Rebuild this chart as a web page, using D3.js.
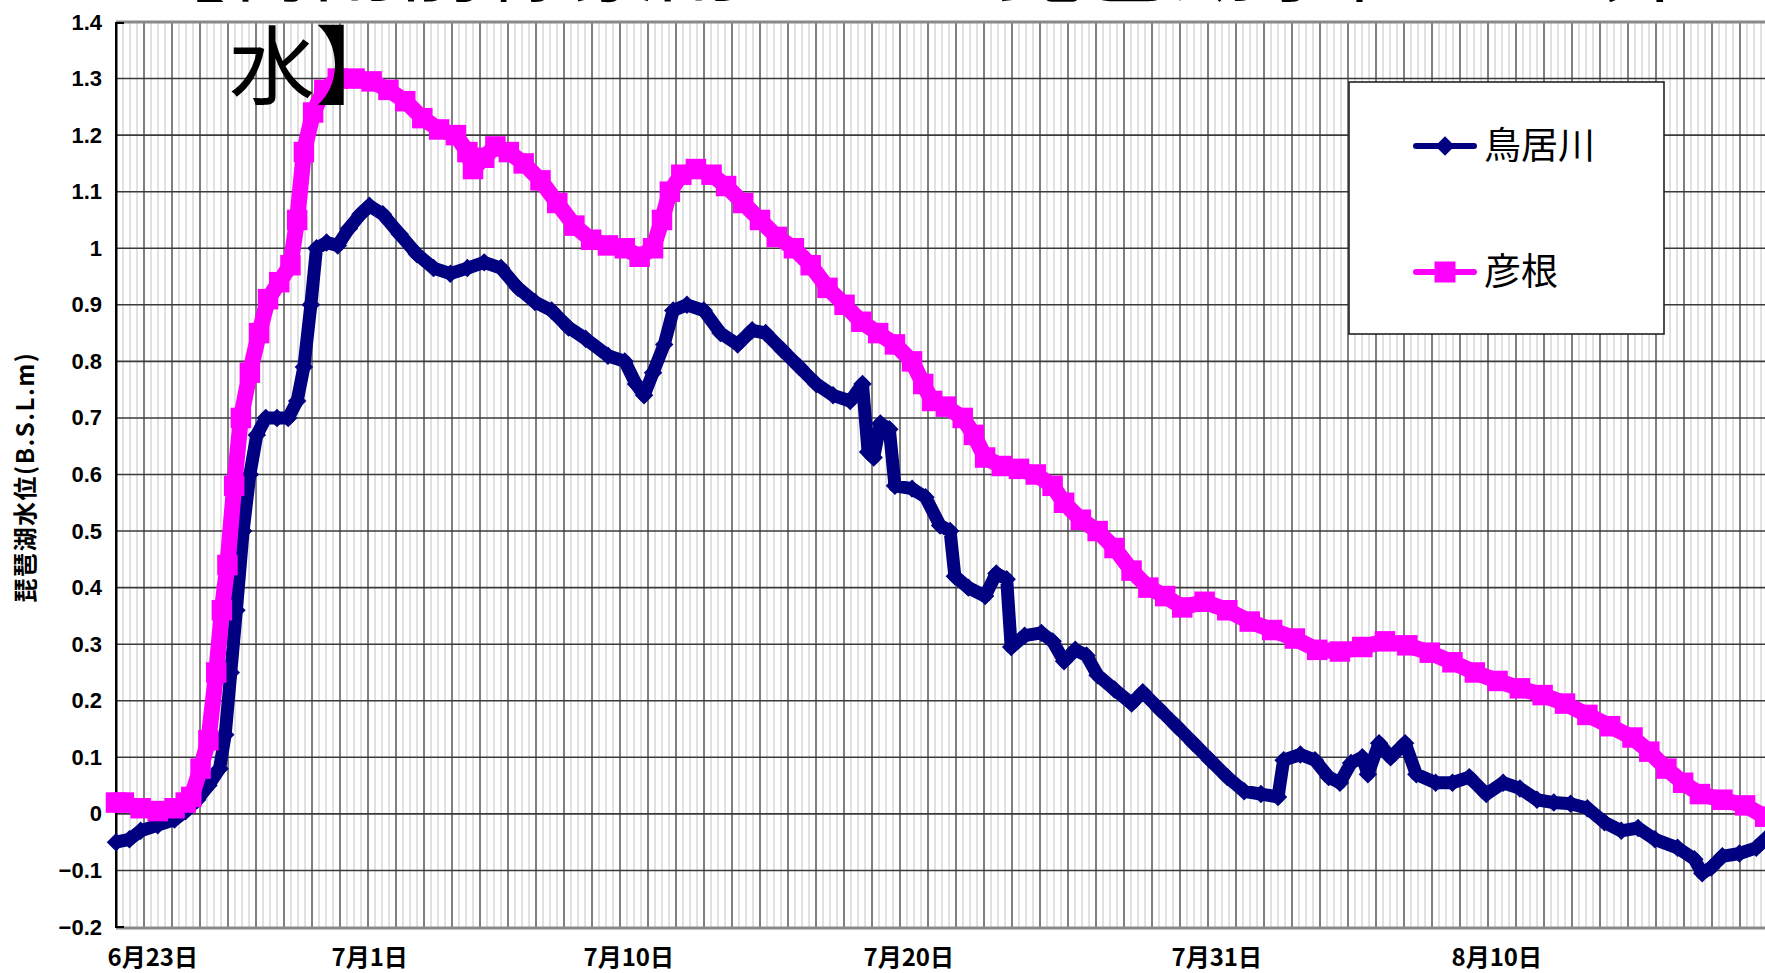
<!DOCTYPE html>
<html>
<head>
<meta charset="utf-8">
<script src="https://cdn.jsdelivr.net/npm/d3@7"></script>
<style>
  body { margin: 0; background: #fff; overflow: hidden; }
  text { font-family: "Noto Sans CJK JP", "Noto Sans", sans-serif; }
</style>
</head>
<body>
<svg id="chart"></svg>
<script>
// days counted from 6/23 0:00
var xTickDays = [0, 8, 17, 27, 38, 48]
var xTickLabels = ["6月23日", "7月1日", "7月10日", "7月20日", "7月31日", "8月10日"]
var yTicks = [-0.2, -0.1, 0, 0.1, 0.2, 0.3, 0.4, 0.5, 0.6, 0.7, 0.8, 0.9, 1, 1.1, 1.2, 1.3, 1.4]
var seriesNames = ["鳥居川", "彦根"]

// 鳥居川 (navy, diamonds)
var toriiDays = [0, 0.48, 0.88, 1.49, 2.09, 2.49, 2.90, 3.30, 3.70, 3.90, 4.10, 4.30, 4.54, 4.78, 5.03, 5.35, 5.75, 6.15, 6.47, 6.71, 6.96, 7.16, 7.52, 7.92, 8.32, 8.73, 9.05, 9.53, 10.13, 10.74, 11.34, 11.94, 12.55, 13.15, 13.75, 14.35, 14.96, 15.56, 16.16, 16.77, 17.57, 18.17, 18.57, 18.86, 19.18, 19.58, 19.90, 20.39, 20.99, 21.59, 22.20, 22.72, 23.20, 23.80, 24.41, 25.01, 25.61, 26.22, 26.66, 26.86, 27.06, 27.30, 27.62, 27.82, 28.43, 28.91, 29.43, 29.79, 29.96, 30.44, 31.04, 31.44, 31.81, 31.97, 32.45, 33.05, 33.45, 33.86, 34.26, 34.66, 35.06, 35.66, 36.27, 36.67, 37.27, 37.88, 38.48, 39.08, 39.69, 40.29, 40.89, 41.50, 41.70, 42.30, 42.82, 43.31, 43.71, 44.11, 44.51, 44.71, 45.11, 45.52, 46.04, 46.44, 47.13, 47.73, 48.33, 48.94, 49.54, 50.14, 50.75, 51.35, 51.95, 52.55, 53.16, 53.76, 54.36, 54.96, 55.77, 56.37, 56.65, 56.97, 57.37, 57.98, 58.58, 58.90]
var toriiLevels = [-0.05, -0.045, -0.03, -0.02, -0.01, 0.005, 0.025, 0.05, 0.08, 0.14, 0.25, 0.36, 0.50, 0.60, 0.67, 0.70, 0.70, 0.70, 0.73, 0.79, 0.90, 1.00, 1.01, 1.005, 1.035, 1.06, 1.075, 1.06, 1.025, 0.99, 0.965, 0.955, 0.965, 0.975, 0.965, 0.93, 0.905, 0.89, 0.86, 0.84, 0.81, 0.80, 0.76, 0.74, 0.78, 0.83, 0.89, 0.90, 0.89, 0.85, 0.83, 0.855, 0.85, 0.82, 0.79, 0.76, 0.74, 0.73, 0.76, 0.64, 0.63, 0.69, 0.68, 0.58, 0.575, 0.56, 0.51, 0.50, 0.42, 0.40, 0.385, 0.425, 0.415, 0.295, 0.315, 0.32, 0.305, 0.27, 0.29, 0.28, 0.245, 0.22, 0.195, 0.215, 0.185, 0.155, 0.125, 0.095, 0.065, 0.04, 0.035, 0.03, 0.095, 0.105, 0.095, 0.065, 0.055, 0.09, 0.10, 0.07, 0.125, 0.10, 0.125, 0.07, 0.055, 0.055, 0.065, 0.035, 0.055, 0.045, 0.025, 0.02, 0.018, 0.01, -0.015, -0.03, -0.025, -0.045, -0.06, -0.08, -0.105, -0.095, -0.075, -0.07, -0.06, -0.045]

// 彦根 (magenta, squares)
var hikoneDays = [0, 0.28, 0.88, 1.49, 2.09, 2.49, 2.69, 3.02, 3.30, 3.58, 3.78, 3.98, 4.22, 4.46, 4.78, 5.11, 5.43, 5.83, 6.23, 6.47, 6.71, 7.04, 7.44, 7.92, 8.52, 9.13, 9.73, 10.33, 10.94, 11.54, 12.14, 12.55, 12.75, 13.15, 13.55, 14.03, 14.56, 15.16, 15.76, 16.37, 16.97, 17.57, 18.17, 18.70, 19.18, 19.50, 19.78, 20.19, 20.71, 21.27, 21.79, 22.40, 23.00, 23.60, 24.21, 24.81, 25.41, 26.02, 26.62, 27.22, 27.82, 28.43, 28.83, 29.15, 29.64, 30.24, 30.64, 31.04, 31.64, 32.25, 32.85, 33.45, 33.86, 34.46, 35.06, 35.66, 36.27, 36.87, 37.47, 38.08, 38.88, 39.69, 40.49, 41.29, 42.10, 42.90, 43.71, 44.51, 45.32, 46.12, 46.92, 47.73, 48.53, 49.34, 50.14, 50.95, 51.75, 52.55, 53.36, 54.16, 54.76, 55.37, 55.97, 56.57, 57.37, 58.18, 58.90]
var hikoneLevels = [0.02, 0.02, 0.01, 0.005, 0.01, 0.02, 0.03, 0.08, 0.13, 0.25, 0.36, 0.44, 0.58, 0.70, 0.78, 0.85, 0.91, 0.94, 0.97, 1.05, 1.17, 1.24, 1.28, 1.30, 1.30, 1.295, 1.28, 1.26, 1.23, 1.21, 1.20, 1.17, 1.14, 1.16, 1.18, 1.17, 1.15, 1.12, 1.08, 1.04, 1.015, 1.005, 1.0, 0.985, 1.0, 1.05, 1.10, 1.13, 1.14, 1.13, 1.11, 1.08, 1.05, 1.02, 1.00, 0.97, 0.93, 0.90, 0.87, 0.85, 0.83, 0.80, 0.76, 0.73, 0.72, 0.70, 0.67, 0.63, 0.615, 0.61, 0.60, 0.58, 0.55, 0.52, 0.50, 0.47, 0.43, 0.40, 0.385, 0.365, 0.375, 0.36, 0.34, 0.325, 0.31, 0.29, 0.287, 0.295, 0.305, 0.298, 0.285, 0.268, 0.25, 0.235, 0.222, 0.21, 0.195, 0.175, 0.155, 0.135, 0.11, 0.08, 0.055, 0.035, 0.025, 0.015, -0.005]

var W = 1765, H = 973
var plot = {left: 116, top: 22, bottom: 927}
var pxPerDay = 28.0

var svg = d3.select("#chart").attr("width", W).attr("height", H)

var x = d3.scaleLinear().domain([0, 61]).range([plot.left, plot.left + 61 * pxPerDay])
var y = d3.scaleLinear().domain([-0.2, 1.4]).range([plot.bottom, plot.top])

// minor vertical grid (every 6 hours)
var minor = d3.range(0, 61 * 4).map(d => d / 4).filter(d => d % 1 !== 0)
svg.append("g")
   .selectAll("line")
   .data(minor)
   .join("line")
   .attr("x1", d => x(d)).attr("x2", d => x(d))
   .attr("y1", plot.top).attr("y2", plot.bottom)
   .attr("stroke", "#c4c4c4")
   .attr("stroke-width", 1)

// major vertical grid (days)
svg.append("g")
   .selectAll("line")
   .data(d3.range(1, 61))
   .join("line")
   .attr("x1", d => x(d)).attr("x2", d => x(d))
   .attr("y1", plot.top).attr("y2", plot.bottom)
   .attr("stroke", "#4a4a4a")
   .attr("stroke-width", 1.4)

// horizontal grid
svg.append("g")
   .selectAll("line")
   .data(yTicks.slice(1, -1))
   .join("line")
   .attr("x1", plot.left).attr("x2", W)
   .attr("y1", d => y(d)).attr("y2", d => y(d))
   .attr("stroke", "#3a3a3a")
   .attr("stroke-width", 1.6)

// top and bottom frame lines (grey)
svg.append("line")
   .attr("x1", plot.left).attr("x2", W)
   .attr("y1", plot.top).attr("y2", plot.top)
   .attr("stroke", "#8a8a8a").attr("stroke-width", 3)
svg.append("line")
   .attr("x1", plot.left).attr("x2", W)
   .attr("y1", plot.bottom + 1).attr("y2", plot.bottom + 1)
   .attr("stroke", "#8a8a8a").attr("stroke-width", 3)

// y axis
var yAxis = svg.append("g")
   .attr("transform", `translate(${plot.left},0)`)
   .call(d3.axisLeft(y).tickValues(yTicks).tickFormat(d3.format("~g")).tickSize(0).tickPadding(14))
yAxis.select(".domain").attr("stroke", "#000").attr("stroke-width", 2)
yAxis.selectAll("text")
     .attr("font-size", 22)
     .attr("font-weight", "bold")
     .attr("fill", "#000")
     .style("font-family", '"Liberation Sans", sans-serif')
// small corner marks
svg.append("path")
   .attr("d", `M${plot.left + 8},${plot.top + 1}H${plot.left}V${plot.bottom}H${plot.left + 8}`)
   .attr("fill", "none").attr("stroke", "#000").attr("stroke-width", 2)

// x axis
var xAxis = svg.append("g")
   .attr("transform", `translate(0,${plot.bottom})`)
   .call(d3.axisBottom(x).tickValues(xTickDays).tickFormat((d, i) => xTickLabels[i]).tickSize(0))
xAxis.select(".domain").remove()
xAxis.selectAll("text")
     .attr("y", 39).attr("dy", 0)
     .attr("text-anchor", "start")
     .attr("dx", -9)
     .attr("font-size", 24)
     .attr("font-weight", "bold")
     .attr("fill", "#000")

// y axis title
svg.append("text")
   .attr("transform", "translate(34,477) rotate(-90)")
   .attr("text-anchor", "middle")
   .attr("font-size", 24)
   .attr("font-weight", "bold")
   .attr("letter-spacing", 1.5)
   .text("琵琶湖水位(B.S.L.m)")

// series
var torii = toriiDays.map((d, i) => ({day: d, v: toriiLevels[i]}))
var hikone = hikoneDays.map((d, i) => ({day: d, v: hikoneLevels[i]}))

var line = d3.line().x(d => x(d.day)).y(d => y(d.v))

svg.append("path")
   .datum(torii)
   .attr("d", line)
   .attr("fill", "none")
   .attr("stroke", "#000080")
   .attr("stroke-width", 13)
   .attr("stroke-linejoin", "round")
svg.append("g")
   .selectAll("path")
   .data(torii)
   .join("path")
   .attr("d", d3.symbol(d3.symbolSquare, 170))
   .attr("transform", d => `translate(${x(d.day)},${y(d.v)}) rotate(45)`)
   .attr("fill", "#000080")

svg.append("path")
   .datum(hikone)
   .attr("d", line)
   .attr("fill", "none")
   .attr("stroke", "#ff00ff")
   .attr("stroke-width", 16)
   .attr("stroke-linejoin", "round")
svg.append("g")
   .selectAll("path")
   .data(hikone)
   .join("path")
   .attr("d", d3.symbol(d3.symbolSquare, 420))
   .attr("transform", d => `translate(${x(d.day)},${y(d.v)})`)
   .attr("fill", "#ff00ff")

// legend
var lg = svg.append("g")
lg.append("rect")
  .attr("x", 1349).attr("y", 82)
  .attr("width", 315).attr("height", 252)
  .attr("fill", "#fff")
  .attr("stroke", "#222").attr("stroke-width", 1.6)
var legendY = [146, 272]
var legendColors = ["#000080", "#ff00ff"]
seriesNames.forEach((name, i) => {
    lg.append("line")
      .attr("x1", 1416).attr("x2", 1474)
      .attr("y1", legendY[i]).attr("y2", legendY[i])
      .attr("stroke", legendColors[i]).attr("stroke-width", 6)
      .attr("stroke-linecap", "round")
    lg.append("path")
      .attr("d", d3.symbol(d3.symbolSquare, i === 0 ? 190 : 441))
      .attr("transform", `translate(1445,${legendY[i]})` + (i === 0 ? " rotate(45)" : ""))
      .attr("fill", legendColors[i])
    lg.append("text")
      .attr("x", 1484).attr("y", legendY[i] + 13)
      .attr("font-size", 37)
      .attr("fill", "#000")
      .text(name)
})

// title (cut off at the top of the picture)
svg.append("text")
   .attr("x", 140).attr("y", -5)
   .attr("font-size", 86)
   .attr("fill", "#000")
   .text("【梅雨前線豪雨による琵琶湖水位の上昇と増")
svg.append("text")
   .attr("x", 229).attr("y", 98)
   .attr("font-size", 86)
   .attr("fill", "#000")
   .text("水】")
</script>
</body>
</html>
